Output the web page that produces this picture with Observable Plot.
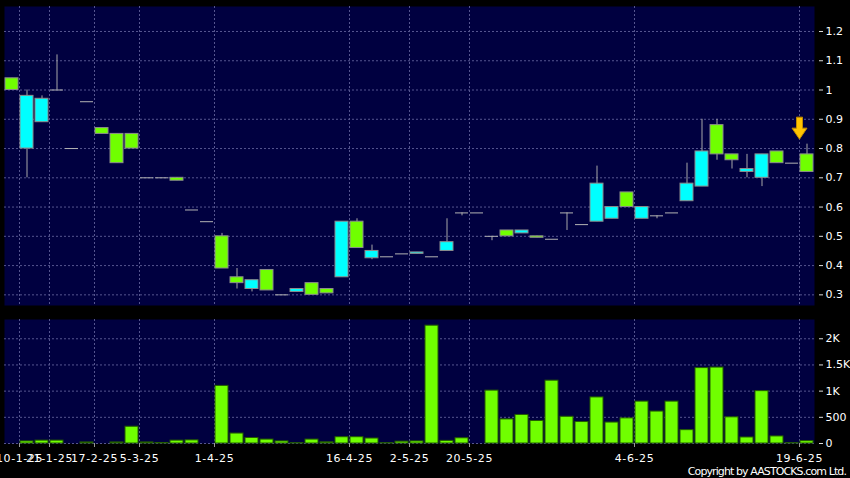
<!DOCTYPE html>
<html><head><meta charset="utf-8">
<script src="https://cdn.jsdelivr.net/npm/d3@7"></script>
<script src="https://cdn.jsdelivr.net/npm/@observablehq/plot@0.6"></script>
<style>
html,body{margin:0;padding:0;background:#000;width:850px;height:478px;overflow:hidden;}
#price{position:absolute;left:0;top:0;}
#volume{position:absolute;left:0;top:310px;}
#copy{position:absolute;right:4px;top:465px;color:#fff;font:11px "DejaVu Sans";letter-spacing:-0.9px;white-space:nowrap;}
</style></head><body>
<div id="price"></div><div id="volume"></div><div id="copy">Copyright by AASTOCKS.com Ltd.</div>
<script>
// ---- data ----
const open  = [1.04,0.80,0.89,1.00,0.80,0.96,0.87,0.85,0.85,0.70, 0.70,0.70,0.59,0.55,0.50,0.36,0.32,0.385,0.30,0.31, 0.34,0.32,0.36,0.55,0.425,0.43,0.44,0.44,0.43,0.45, 0.58,0.58,0.50,0.52,0.51,0.50,0.49,0.58,0.54,0.55, 0.56,0.65,0.56,0.57,0.58,0.62,0.67,0.88,0.78,0.72, 0.70,0.79,0.75,0.78];
const close = [1.00,0.98,0.97,1.00,0.80,0.96,0.85,0.75,0.80,0.70, 0.70,0.69,0.59,0.55,0.39,0.34,0.35,0.315,0.30,0.32, 0.30,0.305,0.55,0.46,0.45,0.43,0.44,0.445,0.43,0.48, 0.58,0.58,0.50,0.50,0.52,0.495,0.49,0.58,0.54,0.68, 0.60,0.60,0.60,0.57,0.58,0.68,0.79,0.78,0.76,0.73, 0.78,0.75,0.75,0.72];
const high  = [1.04,1.00,0.98,1.12,0.80,0.96,0.87,0.85,0.85,0.70, 0.70,0.70,0.59,0.55,0.51,0.39,0.35,0.385,0.30,0.32, 0.34,0.32,0.55,0.56,0.47,0.43,0.44,0.445,0.43,0.56, 0.58,0.58,0.50,0.52,0.52,0.50,0.49,0.58,0.54,0.74, 0.60,0.65,0.60,0.57,0.58,0.75,0.90,0.90,0.78,0.78, 0.78,0.79,0.75,0.815];
const low   = [1.00,0.70,0.89,1.00,0.80,0.96,0.85,0.75,0.80,0.70, 0.70,0.69,0.59,0.55,0.39,0.32,0.31,0.315,0.30,0.31, 0.30,0.305,0.36,0.46,0.42,0.43,0.44,0.44,0.43,0.45, 0.57,0.58,0.485,0.50,0.51,0.495,0.49,0.52,0.54,0.55, 0.56,0.60,0.56,0.56,0.58,0.62,0.67,0.76,0.73,0.70, 0.67,0.75,0.75,0.72];
const volume = [0,40,55,55,0,20,0,20,320,20, 10,55,60,0,1100,190,105,75,40,5, 75,22,120,120,95,5,35,40,2250,50, 100,0,1010,460,545,430,1200,510,410,880, 400,480,800,610,800,255,1440,1450,500,115, 1000,135,5,45];
const tickSlots  = [1,3,6,9,14,23,27,31,42,53];
const tickLabels = ["10-1-25","21-1-25","17-2-25","5-3-25","1-4-25","16-4-25","2-5-25","20-5-25","4-6-25","19-6-25"];
const priceTicks = [0.3,0.4,0.5,0.6,0.7,0.8,0.9,1.0,1.1,1.2];
const volTicks = [0,500,1000,1500,2000];
const volTickLabels = ["0","500","1K","1.5K","2K"];
const markerSlot = 53;

// ---- table built from the arrays ----
const slots = d3.range(open.length);
const rows = slots.map(i => ({i, open: open[i], close: close[i], high: high[i], low: low[i], volume: volume[i]}));

const GREEN = "#70ff00", CYAN = "#00ffff", BG = "#000040", GRID = "#55558f";
const xScale = {type: "band", domain: slots, paddingInner: 0.15, paddingOuter: 0.05, axis: null};
const style = {background: "transparent", color: "#fff", fontFamily: "DejaVu Sans", fontSize: "11px", overflow: "visible"};

const arrow = {
  draw(ctx) {
    ctx.moveTo(-3, -11); ctx.lineTo(3, -11); ctx.lineTo(3, 0); ctx.lineTo(7.5, 0);
    ctx.lineTo(0, 11); ctx.lineTo(-7.5, 0); ctx.lineTo(-3, 0); ctx.closePath();
  }
};

const price = Plot.plot({
  width: 850, height: 310,
  marginTop: 6, marginBottom: 5, marginLeft: 4, marginRight: 36,
  style,
  x: xScale,
  y: {domain: [0.2636, 1.2854], axis: null},
  marks: [
    Plot.frame({fill: BG, stroke: null}),
    Plot.ruleY(priceTicks, {stroke: GRID, strokeDasharray: "2,2"}),
    Plot.ruleX(tickSlots, {dx: -7.5, stroke: GRID, strokeDasharray: "2,2"}),
    Plot.ruleX(rows, {x: "i", y1: "low", y2: "high", stroke: "#a8a8a8"}),
    Plot.barY(rows.filter(d => d.open !== d.close), {
      x: "i", y1: "open", y2: "close",
      fill: d => d.close > d.open ? CYAN : GREEN, stroke: "#8c8c8c", strokeWidth: 1
    }),
    Plot.tickY(rows.filter(d => d.open === d.close), {x: "i", y: "close", stroke: "#b4b4b4"}),
    Plot.dot(rows.filter(d => d.i === markerSlot), {
      x: "i", y: "high", dx: -7.5, dy: -16, symbol: arrow, r: 5,
      fill: "#ffc400", stroke: "#c08a00", strokeWidth: 1
    }),
    Plot.axisY(priceTicks, {
      anchor: "right", label: null, tickSize: 4, dx: 4, tickPadding: 3,
      tickFormat: d => String(+d.toFixed(1)), stroke: "#ddd", fill: "#fff"
    })
  ]
});
document.getElementById("price").append(price);

const vol = Plot.plot({
  width: 850, height: 150,
  marginTop: 9, marginBottom: 17, marginLeft: 4, marginRight: 36,
  style,
  x: xScale,
  y: {domain: [0, 2368], axis: null},
  marks: [
    Plot.frame({fill: BG, stroke: null}),
    Plot.ruleY(volTicks, {stroke: GRID, strokeDasharray: "2,2"}),
    Plot.ruleX(tickSlots, {dx: -7.5, stroke: GRID, strokeDasharray: "2,2"}),
    Plot.barY(rows.filter(d => d.volume > 0), {x: "i", y: "volume", fill: GREEN, stroke: "#245c00", strokeWidth: 1}),
    Plot.axisY(volTicks, {
      anchor: "right", label: null, tickSize: 4, dx: 4, tickPadding: 3,
      tickFormat: d => volTickLabels[volTicks.indexOf(d)], stroke: "#ddd", fill: "#fff"
    }),
    Plot.axisX(tickSlots, {
      anchor: "bottom", label: null, tickSize: 4, tickPadding: 7, dx: -7.5,
      tickFormat: d => tickLabels[tickSlots.indexOf(d)], stroke: "#999", fill: "#fff",
      style: {letterSpacing: "0.6px"}
    })
  ]
});
vol.querySelectorAll('[aria-label="x-axis tick label"] text').forEach(t => t.setAttribute("letter-spacing", "0.6"));
document.getElementById("volume").append(vol);
</script>
</body></html>
